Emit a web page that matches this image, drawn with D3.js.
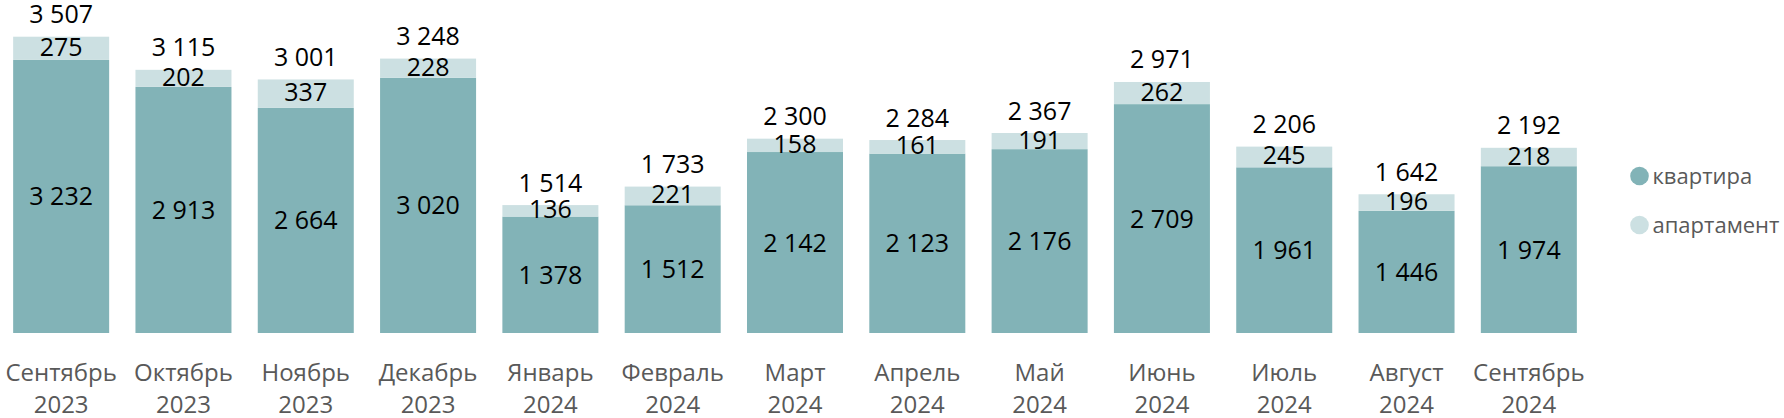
<!DOCTYPE html>
<html>
<head>
<meta charset="utf-8">
<script src="https://cdn.jsdelivr.net/npm/d3@7"></script>
<style>
  html, body { margin: 0; padding: 0; background: #fff; }
  svg { display: block; }
  text { font-family: "Open Sans", "Noto Sans", sans-serif; }
</style>
</head>
<body>
<svg id="chart" width="1784" height="418"></svg>
<script>
const months = ["Сентябрь", "Октябрь", "Ноябрь", "Декабрь", "Январь", "Февраль", "Март", "Апрель", "Май", "Июнь", "Июль", "Август", "Сентябрь"];
const years = ["2023", "2023", "2023", "2023", "2024", "2024", "2024", "2024", "2024", "2024", "2024", "2024", "2024"];
const kvartira = [3232, 2913, 2664, 3020, 1378, 1512, 2142, 2123, 2176, 2709, 1961, 1446, 1974];
const apartament = [275, 202, 337, 228, 136, 221, 158, 161, 191, 262, 245, 196, 218];
const seriesNames = ["квартира", "апартамент"];
const seriesColors = ["#82B3B7", "#CCE0E2"];

const svg = d3.select("#chart");
const fmt = v => d3.format(",")(v).replace(/,/g, " ");

const idx = d3.range(months.length);
const x = d3.scaleBand().domain(idx).range([0, 1590]).paddingInner(0.215).paddingOuter(0.1075);
const baseY = 333;
const y = d3.scaleLinear().domain([0, 3507]).range([baseY, 36.7]);

const rows = idx.map(i => ({ i, kvartira: kvartira[i], apartament: apartament[i] }));
const stack = d3.stack().keys(["kvartira", "apartament"]);
const layers = stack(rows);

const g = svg.append("g");
layers.forEach((layer, li) => {
  const lg = g.append("g");
  lg.selectAll("rect").data(layer).join("rect")
    .attr("x", d => x(d.data.i))
    .attr("width", x.bandwidth())
    .attr("y", d => y(d[1]))
    .attr("height", d => y(d[0]) - y(d[1]))
    .attr("fill", seriesColors[li]);
  lg.selectAll("text").data(layer).join("text")
    .attr("x", d => x(d.data.i) + x.bandwidth() / 2)
    .attr("y", d => (y(d[0]) + y(d[1])) / 2)
    .attr("dy", li === 0 ? "0.36em" : "0.3em")
    .attr("text-anchor", "middle")
    .attr("font-size", 25)
    .attr("fill", "#000")
    .text(d => fmt(d[1] - d[0]));
});

// totals
g.selectAll("text.total").data(rows).join("text")
  .attr("class", "total")
  .attr("x", d => x(d.i) + x.bandwidth() / 2)
  .attr("y", d => y(d.kvartira + d.apartament) - 13.5)
  .attr("text-anchor", "middle")
  .attr("font-size", 25)
  .attr("fill", "#000")
  .text(d => fmt(d.kvartira + d.apartament));

// x axis labels (two lines)
const xl = svg.append("g").selectAll("text").data(idx).join("text")
  .attr("x", i => x(i) + x.bandwidth() / 2)
  .attr("y", 381)
  .attr("text-anchor", "middle")
  .attr("font-size", 24)
  .attr("fill", "#595959");
xl.append("tspan").attr("x", i => x(i) + x.bandwidth() / 2).text(i => months[i]);
xl.append("tspan").attr("x", i => x(i) + x.bandwidth() / 2).attr("dy", 32).text(i => years[i]);

// legend
const leg = svg.append("g").selectAll("g").data(seriesNames).join("g")
  .attr("transform", (d, i) => `translate(1639.5, ${176 + i * 49})`);
leg.append("circle").attr("r", 9.3).attr("fill", (d, i) => seriesColors[i]);
leg.append("text").attr("x", 13).attr("dy", "0.35em")
  .attr("font-size", 22).attr("fill", "#595959").text(d => d);
</script>
</body>
</html>
